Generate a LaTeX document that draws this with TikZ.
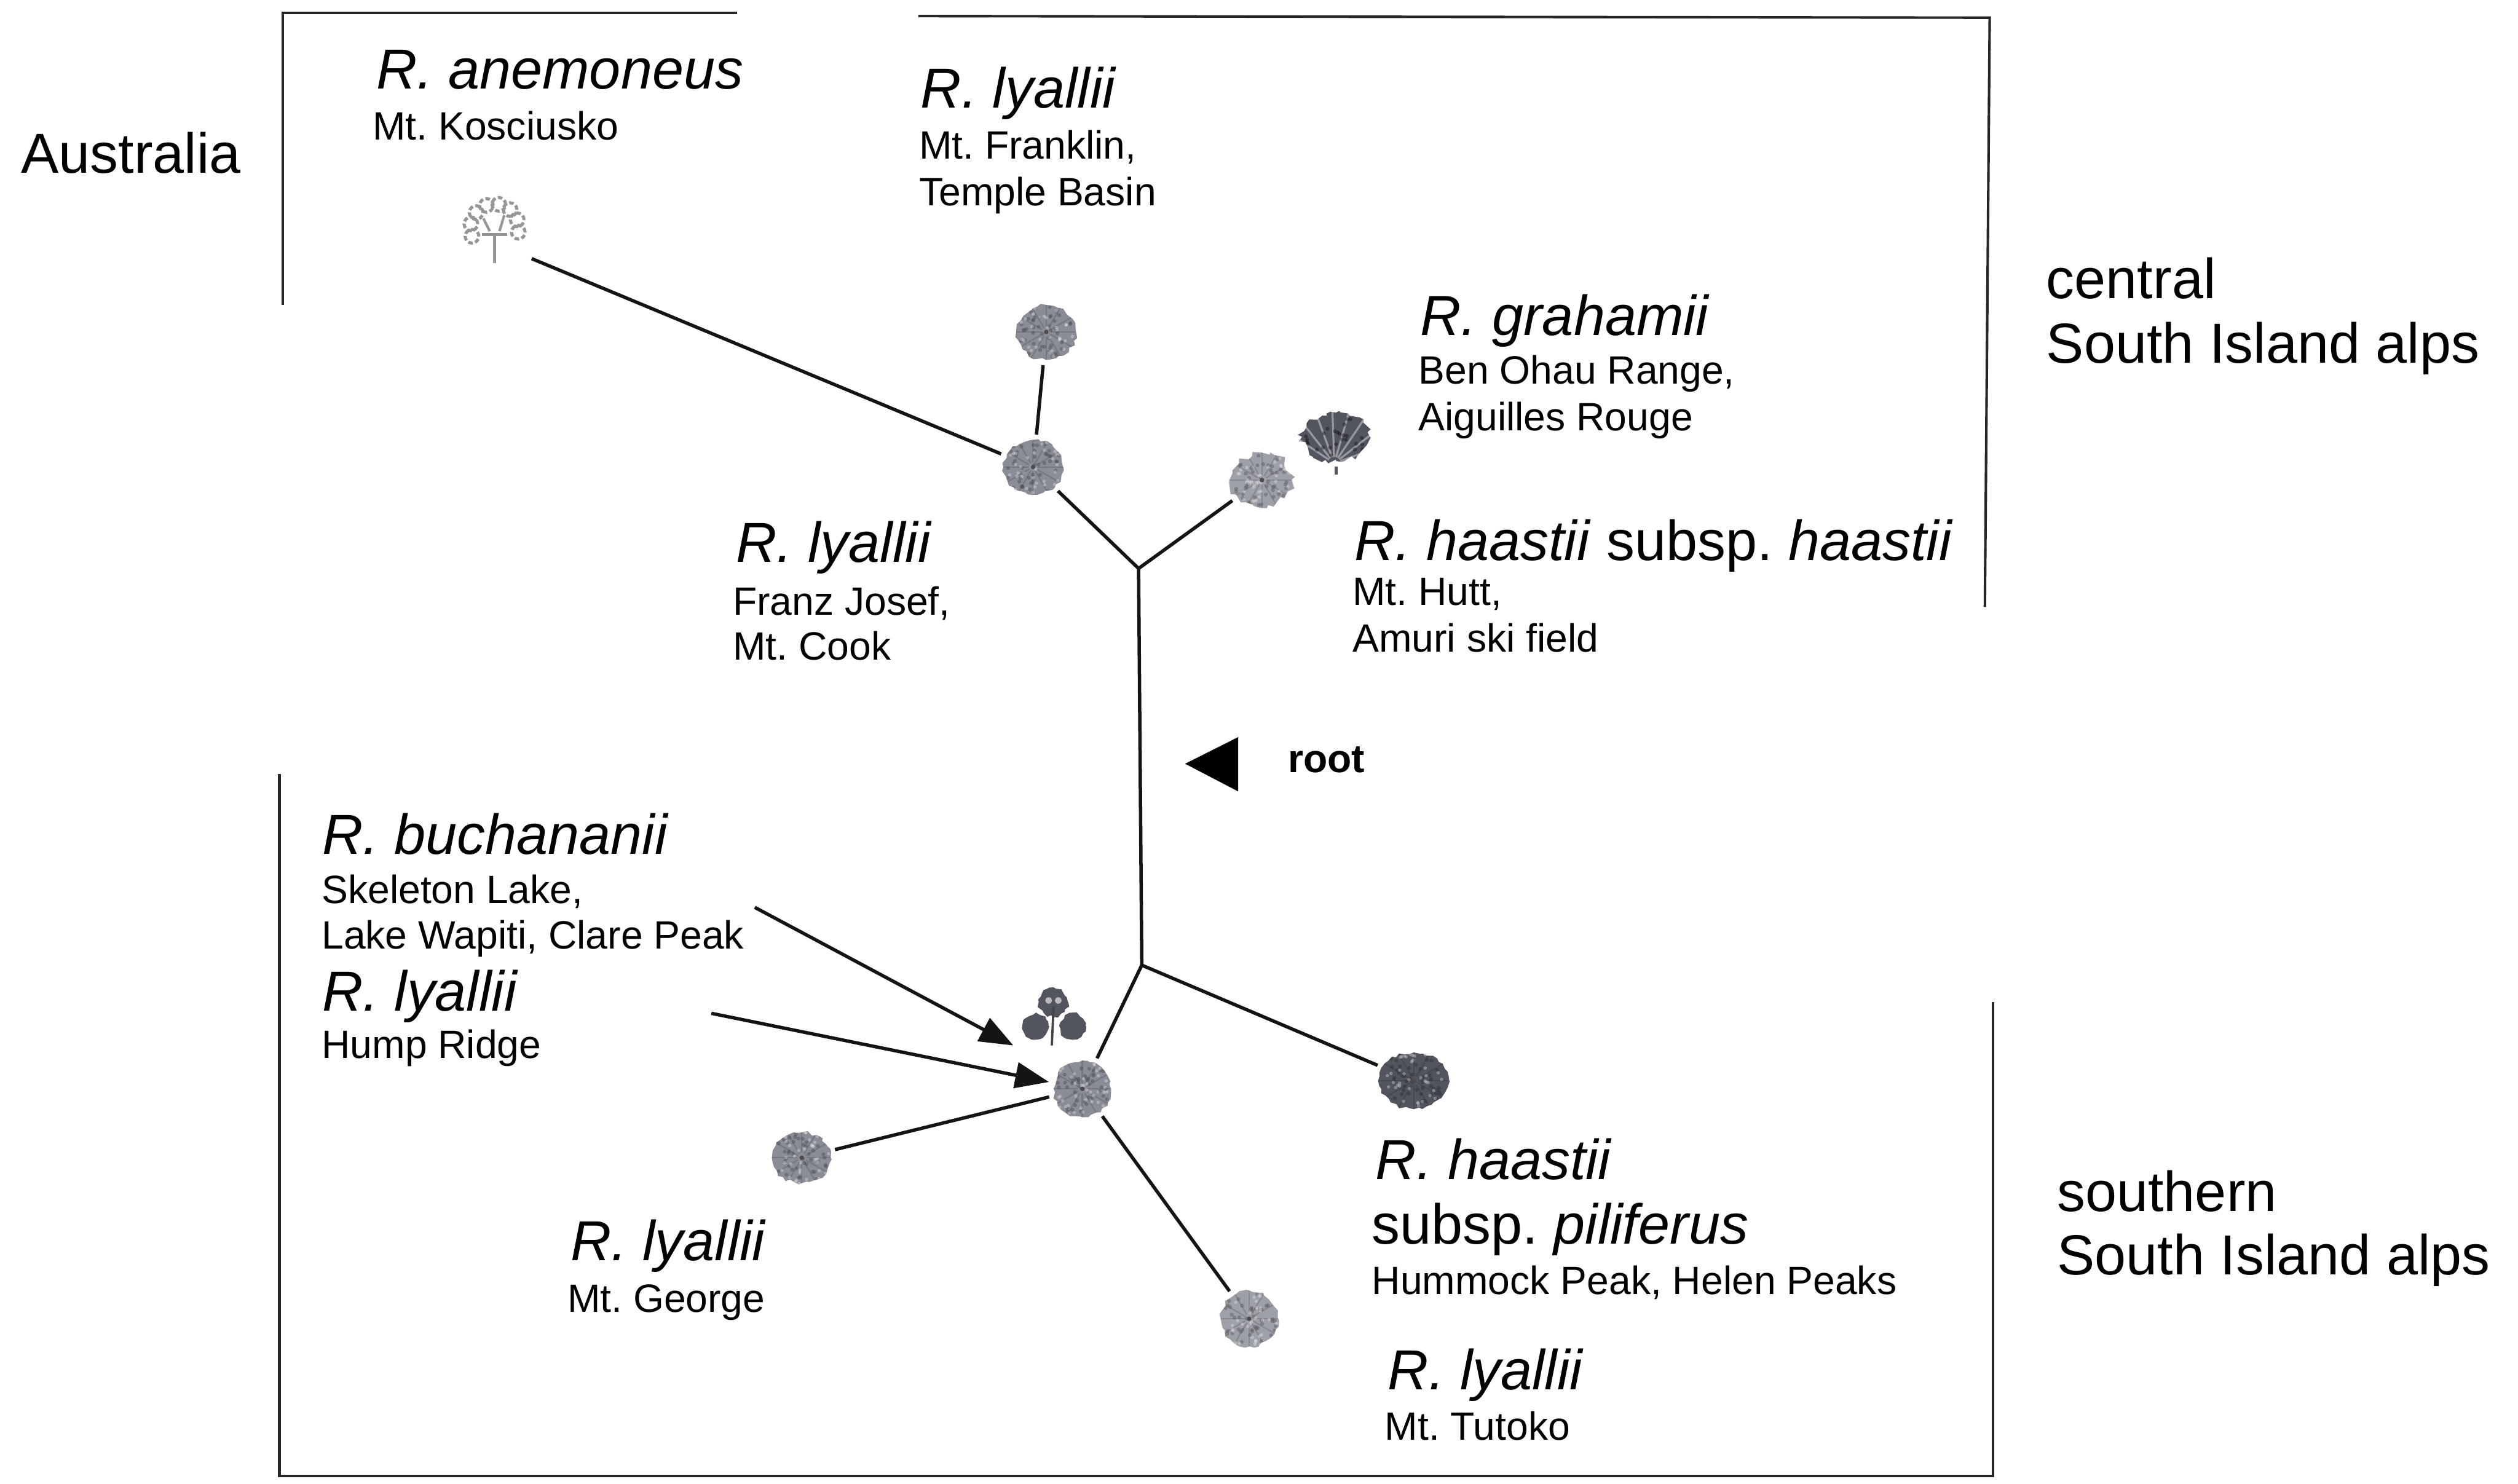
\documentclass[tikz,border=0pt]{standalone}
\usepackage{fontspec}
\setmainfont{Liberation Sans}
\usetikzlibrary{shapes.geometric, arrows.meta, decorations.pathmorphing}

\definecolor{rosemid}{RGB}{138,141,150}
\definecolor{roselight}{RGB}{158,160,168}
\definecolor{rosedark}{RGB}{82,85,94}
\definecolor{inkline}{RGB}{20,20,20}
\definecolor{treepale}{RGB}{150,150,150}

\tikzset{
  species/.style={anchor=base west, inner sep=0pt, font=\fontsize{20}{24}\selectfont\itshape},
  region/.style={anchor=base west, inner sep=0pt, font=\fontsize{20}{24}\selectfont},
  locality/.style={anchor=base west, inner sep=0pt, font=\fontsize{14}{17}\selectfont},
  rootlabel/.style={anchor=base west, inner sep=0pt, font=\fontsize{14}{17}\selectfont\bfseries},
  branch/.style={line width=1.2pt, draw=inkline},
  frame/.style={line width=0.9pt, draw=black!85},
  pointer/.style={line width=1.2pt, draw=inkline, -{Triangle[length=0.42cm, width=0.32cm]}},
  rosette/.style={ellipse, inner sep=0pt, outer sep=2pt, fill=#1,
    decorate, decoration={random steps, segment length=1.6pt, amplitude=0.6pt},
    path picture={
      \foreach \a in {0,30,...,330}
        \draw[#1!60!black, line width=0.5pt, opacity=0.35]
          ([shift={(\a:0.06cm)}]path picture bounding box.center) --
          ([shift={(\a:0.42cm)}]path picture bounding box.center);
      \foreach \i in {1,...,45}
        \fill[#1!55!black, opacity=0.45]
          ([shift={(rand*0.33cm, rand*0.31cm)}]path picture bounding box.center) circle (0.7pt);
      \foreach \i in {1,...,40}
        \fill[white, opacity=0.3]
          ([shift={(rand*0.35cm, rand*0.33cm)}]path picture bounding box.center) circle (0.6pt);
      \fill[black!70] (path picture bounding box.center) circle (0.8pt);
    }},
  fan/.style={ellipse, inner sep=0pt, outer sep=2pt, fill=rosedark,
    decorate, decoration={random steps, segment length=1.5pt, amplitude=1.2pt},
    path picture={
      \foreach \a in {20,38,...,160}
        \draw[white, line width=0.7pt, opacity=0.4]
          ([shift={(\a:0.08cm)}]path picture bounding box.south) --
          ([shift={(\a:0.7cm)}]path picture bounding box.south);
      \foreach \i in {1,...,30}
        \fill[black, opacity=0.35]
          ([shift={(rand*0.4cm, rand*0.28cm)}]path picture bounding box.center) circle (0.7pt);
    }},
  blob/.style={fill=rosedark, decorate, decoration={random steps, segment length=1.4pt, amplitude=0.6pt}},
}

\begin{document}
\frenchspacing
\pgfmathsetseed{7}
\begin{tikzpicture}[x=0.02cm, y=-0.02cm]
  \useasboundingbox[fill=white] (0,0) rectangle (1568,924);

  % region frames
  \draw[frame] (176,190) -- (176,8) -- (459,8);
  \draw[frame] (572,10) -- (1239,11) -- (1236,378);
  \draw[frame] (174,482) -- (174,919) -- (1241,919) -- (1241,624);

  % plant icons
  \node[circle, minimum size=0.9cm, inner sep=0pt] (anem) at (308,142) {};
  \foreach \a in {200,170,140,110,80,50,20,-10}
    \draw[treepale, line width=1.1pt, dash pattern=on 1.6pt off 0.9pt]
      ([shift={(\a:0.3cm)}]anem.center) circle (0.085cm);
  \draw[treepale, line width=0.9pt] ([shift={(-7,-6)}]anem.center) -- ([shift={(-3,2)}]anem.center);
  \draw[treepale, line width=0.9pt] ([shift={(6,-8)}]anem.center) -- ([shift={(3,2)}]anem.center);
  \draw[treepale, line width=1.2pt] ([shift={(-8,4)}]anem.center) -- ([shift={(8,4)}]anem.center);
  \draw[treepale, line width=1.2pt] ([shift={(0,3)}]anem.center) -- ([shift={(0,22)}]anem.center);

  \node[rosette=rosemid, minimum width=0.74cm, minimum height=0.68cm] (lyF) at (651.5,207) {};
  \node[rosette=rosemid, minimum width=0.74cm, minimum height=0.68cm] (lyFJ) at (643.5,291) {};
  \node[rosette=roselight, minimum width=0.76cm, minimum height=0.68cm,
        decoration={random steps, segment length=2pt, amplitude=1.5pt}] (haH) at (785,299) {};
  \node[fan, minimum width=0.84cm, minimum height=0.6cm] (grah) at (832,272) {};
  \draw[rosedark, line width=1pt] (grah.south) -- ++(0,5);

  \node[circle, minimum size=0.76cm, inner sep=0pt] (buch) at (656,633) {};
  \fill[blob] ([shift={(0,-9)}]buch.center) circle (0.18cm);
  \fill[blob] ([shift={(-11,6)}]buch.center) circle (0.16cm);
  \fill[blob] ([shift={(12,6)}]buch.center) circle (0.16cm);
  \fill[white, opacity=0.6] ([shift={(-3,-10)}]buch.center) circle (1.2pt);
  \fill[white, opacity=0.6] ([shift={(3,-10)}]buch.center) circle (1.2pt);
  \draw[rosedark!80!black, line width=0.8pt] ([shift={(0,-6)}]buch.center) -- ([shift={(-1,18)}]buch.center);

  \node[rosette=rosemid, minimum width=0.71cm, minimum height=0.7cm] (lyS) at (674,678) {};
  \node[rosette=rosedark, minimum width=0.88cm, minimum height=0.7cm] (haP) at (880.5,673) {};
  \node[rosette=rosemid, minimum width=0.73cm, minimum height=0.63cm] (lyG) at (499,721) {};
  \node[rosette=roselight, minimum width=0.71cm, minimum height=0.69cm] (lyT) at (778,821) {};

  % tree branches
  \coordinate (n1) at (709,354);
  \coordinate (n2) at (711,601);
  \draw[branch, shorten <=0.15cm] (anem.south east) -- (lyFJ);
  \draw[branch] (lyF) -- (lyFJ);
  \draw[branch] (lyFJ) -- (n1);
  \draw[branch] (n1) -- (haH);
  \draw[branch] (n1) -- (n2);
  \draw[branch] (n2) -- (lyS);
  \draw[branch] (n2) -- (haP);
  \draw[branch] (lyS) -- (lyG);
  \draw[branch] (lyS) -- (lyT);

  % pointers from the southern labels
  \coordinate (bucharrow) at (470,565);
  \coordinate (buchtip) at (631,651);
  \coordinate (humparrow) at (443,631);
  \draw[pointer] (bucharrow) -- (buchtip);
  \draw[pointer] (humparrow) -- (lyS);

  % root marker
  \fill[black] (738,475.6) -- (771,459) -- (771,492.8) -- cycle;
  \node[rootlabel] (root) at (801.7,480.9) {root};

  % labels
  \node[region] (australia) at (12.8,107.8) {Australia};
  \node[species] (t1) at (234,55.2) {R. anemoneus};
  \node[locality] (t1a) at (231.7,86.9) {Mt. Kosciusko};

  \node[species] (t2) at (573,67) {R. lyallii};
  \node[locality] (t2a) at (572,99) {Mt. Franklin,};
  \node[locality] (t2b) at (572,128) {Temple Basin};

  \node[species] (t3) at (884,209) {R. grahamii};
  \node[locality] (t3a) at (883,239) {Ben Ohau Range,};
  \node[locality] (t3b) at (883,268) {Aiguilles Rouge};

  \node[region] (t4) at (843,349) {\textit{R. haastii} subsp. \textit{haastii}};
  \node[locality] (t4a) at (842,377) {Mt. Hutt,};
  \node[locality] (t4b) at (842,406) {Amuri ski field};

  \node[species] (t5) at (458,350) {R. lyallii};
  \node[locality] (t5a) at (456,383) {Franz Josef,};
  \node[locality] (t5b) at (456,411) {Mt. Cook};

  \node[region] (central) at (1274,185.7) {central};
  \node[region] (centralb) at (1274,226) {South Island alps};

  \node[species] (t6) at (200.4,531.8) {R. buchananii};
  \node[locality] (t6a) at (200,562.7) {Skeleton Lake,};
  \node[locality] (t6b) at (200,591) {Lake Wapiti, Clare Peak};

  \node[species] (t7) at (200.4,629.4) {R. lyallii};
  \node[locality] (t7a) at (200,659) {Hump Ridge};

  \node[species] (t8) at (355,785) {R. lyallii};
  \node[locality] (t8a) at (353,817) {Mt. George};

  \node[species] (t9) at (856.3,734.3) {R. haastii};
  \node[region] (t9a) at (854,774.7) {subsp. \textit{piliferus}};
  \node[locality] (t9b) at (854,806) {Hummock Peak, Helen Peaks};

  \node[species] (t10) at (864,865.5) {R. lyallii};
  \node[locality] (t10a) at (862,896.8) {Mt. Tutoko};

  \node[region] (southern) at (1280.7,754.5) {southern};
  \node[region] (southernb) at (1280.7,793.8) {South Island alps};
\end{tikzpicture}
\end{document}
